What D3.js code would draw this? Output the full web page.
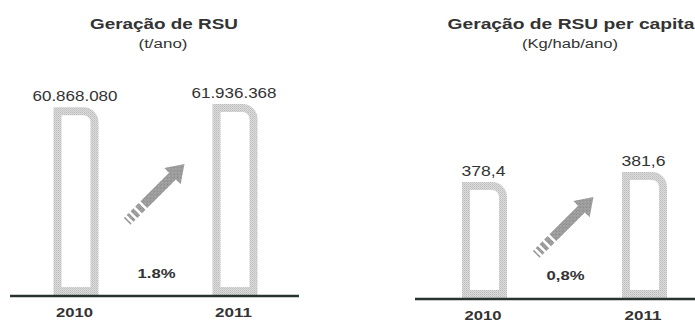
<!DOCTYPE html>
<html lang="pt">
<head>
<meta charset="utf-8">
<script src="https://cdn.jsdelivr.net/npm/d3@7"></script>
<style>
  html, body { margin: 0; padding: 0; background: #fff; }
  svg { display: block; }
  text { font-family: "Liberation Sans", Arial, sans-serif; fill: #333; }
</style>
</head>
<body>
<svg id="chart" width="695" height="322"></svg>
<script>
// Geração de resíduos sólidos urbanos, 2010 x 2011
const years = ["2010", "2011"];
const rsuTotal = [60868080, 61936368];      // t/ano
const rsuPerCapita = [378.4, 381.6];         // kg/hab/ano
const growthLabels = ["1.8%", "0,8%"];
const titles = ["Geração de RSU", "Geração de RSU per capita"];
const units = ["(t/ano)", "(Kg/hab/ano)"];

const ptBR = d3.formatLocale({ decimal: ",", thousands: ".", grouping: [3], currency: ["R$", ""] });
const fmtInt = ptBR.format(",d");
const fmtDec = ptBR.format(",.1f");

const svg = d3.select("#chart");

// halftone-like grey used for the bar outlines and arrows
const defs = svg.append("defs");
function halftone(id, light, dark, mid) {
  const pt = defs.append("pattern")
    .attr("id", id).attr("width", 2).attr("height", 2)
    .attr("patternUnits", "userSpaceOnUse");
  pt.append("rect").attr("width", 2).attr("height", 2).attr("fill", light);
  pt.append("rect").attr("width", 1).attr("height", 1).attr("fill", dark);
  pt.append("rect").attr("x", 1).attr("y", 1).attr("width", 1).attr("height", 1).attr("fill", mid);
}
halftone("tone", "#dcdcdc", "#bcbcbc", "#c8c8c8");
halftone("arrowTone", "#a6a6a6", "#7e7e7e", "#939393");

const panels = [
  {
    title: titles[0], unit: units[0], values: rsuTotal, fmt: fmtInt, growth: growthLabels[0],
    titleCx: 164, titleW: 148, unitW: 49,
    xRange: [76, 235], axis: [10, 299], base: 296,
    y: d3.scaleLinear().domain([0, 61936368]).range([296, 104]),
    labelW: 85, arrowY: 193, growthY: 278
  },
  {
    title: titles[1], unit: units[1], values: rsuPerCapita, fmt: fmtDec, growth: growthLabels[1],
    titleCx: 571, titleW: 247, unitW: 96,
    xRange: [484.5, 644.5], axis: [415, 695], base: 299,
    y: d3.scaleLinear().domain([341, 381.6]).range([299, 172]),
    labelW: 44, arrowY: 226, growthY: 280
  }
];

const barW = 45, sw = 8, radius = 15;

function barPath(cx, yTop, yBot) {
  const a = cx - barW / 2 + sw / 2, b = cx + barW / 2 - sw / 2;
  const t = yTop + sw / 2, btm = yBot - sw / 2 - 1;
  const r = radius - sw / 2;
  return `M${a},${btm}L${a},${t}L${b - r},${t}A${r},${r} 0 0 1 ${b},${t + r}L${b},${btm}Z`;
}

function drawArrow(g, cx, cy) {
  const a = g.append("g").attr("transform", `translate(${cx},${cy}) rotate(-45)`)
    .attr("fill", "url(#arrowTone)").attr("opacity", 0.95);
  // broken tail
  [[-40, -38.5], [-36, -33], [-30.5, -26.5], [-24, -19]].forEach(([x0, x1]) => {
    a.append("rect").attr("x", x0).attr("y", -4.8).attr("width", x1 - x0).attr("height", 9.6);
  });
  // shaft and head
  a.append("path").attr("d", "M-16.5,-4.8L24,-4.8L24,-11.5L41,0L24,11.5L24,4.8L-16.5,4.8Z");
}

panels.forEach(p => {
  const g = svg.append("g");
  const x = d3.scalePoint().domain(years).range(p.xRange);

  g.append("text").attr("x", p.titleCx).attr("y", 29)
    .attr("text-anchor", "middle").attr("font-weight", "bold").attr("font-size", 14.5)
    .attr("textLength", p.titleW).attr("lengthAdjust", "spacingAndGlyphs")
    .text(p.title);
  g.append("text").attr("x", p.titleCx - 1).attr("y", 47.5)
    .attr("text-anchor", "middle").attr("font-size", 12).attr("fill", "#444")
    .attr("textLength", p.unitW).attr("lengthAdjust", "spacingAndGlyphs")
    .text(p.unit);

  // bars
  g.selectAll("path.bar").data(p.values).join("path")
    .attr("class", "bar")
    .attr("d", (v, i) => barPath(x(years[i]), p.y(v), p.base))
    .attr("fill", "#fff").attr("stroke", "url(#tone)").attr("stroke-width", sw)
    .attr("stroke-linejoin", "miter");

  // value labels
  g.selectAll("text.val").data(p.values).join("text")
    .attr("class", "val")
    .attr("x", (v, i) => x(years[i]) - 1)
    .attr("y", v => p.y(v) - 6)
    .attr("text-anchor", "middle").attr("font-size", 14).attr("fill", "#3a3a3a")
    .attr("textLength", p.labelW).attr("lengthAdjust", "spacingAndGlyphs")
    .text(v => p.fmt(v));

  // axis line
  g.append("line").attr("x1", p.axis[0]).attr("x2", p.axis[1])
    .attr("y1", p.base).attr("y2", p.base)
    .attr("stroke", "#29332e").attr("stroke-width", 2.5);

  // year labels
  const xAxis = d3.axisBottom(x).tickSize(0).tickPadding(0);
  const ax = g.append("g").attr("transform", `translate(0,${p.base})`).call(xAxis);
  ax.select(".domain").remove();
  ax.selectAll("text")
    .attr("dy", null).attr("y", 21).attr("x", -2)
    .attr("font-family", null).attr("font-size", 13).attr("font-weight", "bold")
    .attr("fill", "#333")
    .attr("textLength", 37).attr("lengthAdjust", "spacingAndGlyphs");

  // growth arrow and rate
  const mid = (p.xRange[0] + p.xRange[1]) / 2;
  drawArrow(g, mid, p.arrowY);
  g.append("text").attr("x", mid + 1).attr("y", p.growthY)
    .attr("text-anchor", "middle").attr("font-size", 12).attr("font-weight", "bold")
    .attr("textLength", 38).attr("lengthAdjust", "spacingAndGlyphs")
    .text(p.growth);
});
</script>
</body>
</html>
